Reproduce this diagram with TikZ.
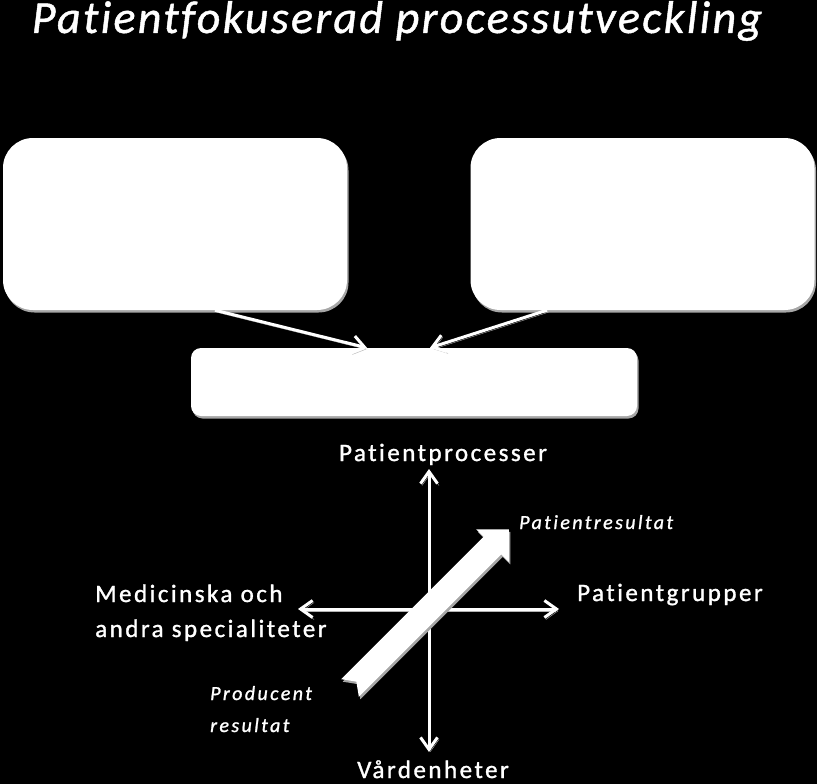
\documentclass[tikz,border=0pt]{standalone}
\usepackage{fontspec}
\setmainfont{Carlito}
\newfontfamily\lblfont[LetterSpace=10, FakeBold=1.2, Ligatures=NoCommon]{Carlito}
\newfontfamily\resfont[LetterSpace=12, FakeBold=1.2, Ligatures=NoCommon]{Carlito}
\newfontfamily\titlefont[LetterSpace=5, FakeBold=1, Ligatures=NoCommon]{Carlito}
\usetikzlibrary{arrows.meta,positioning,calc,shadows}

\begin{document}
\begin{tikzpicture}[x=1pt, y=-1pt, text=white,
  font=\lblfont\fontsize{25}{35}\selectfont,
  shade/.style={drop shadow={shadow xshift=1.5pt, shadow yshift=-2.5pt, fill=gray!70, opacity=1}},
  panel/.style={rectangle, rounded corners=30pt, fill=white, minimum width=344pt, minimum height=172pt, inner sep=0pt, shade},
  goalbox/.style={rectangle, rounded corners=10pt, fill=white, minimum width=446pt, minimum height=68pt, inner sep=0pt, shade},
  conn/.style={draw=white, line width=3pt, -{Straight Barb[length=12pt,width=17pt]}, preaction={draw=gray!60, transform canvas={xshift=1.5pt,yshift=-2pt}}},
  axisarr/.style={draw=white, line width=3pt, {Straight Barb[length=12pt,width=17pt]}-{Straight Barb[length=12pt,width=17pt]}, preaction={draw=gray!60, transform canvas={xshift=1.5pt,yshift=-2pt}}},
  axlab/.style={inner sep=0pt},
  reslab/.style={inner sep=0pt, align=left, font=\resfont\itshape\fontsize{20}{32}\selectfont}]
\fill[black] (0,0) rectangle (817,784);
\useasboundingbox (0,0) rectangle (817,784);

% title
\node[anchor=base, inner sep=0pt, font=\titlefont\itshape\fontsize{46}{50}\selectfont] (title) at (397,33) {Patientfokuserad processutveckling};

% boxes
\node[panel] (lbox) at (175,224) {};
\node[panel] (rbox) at (642.5,224) {};
\node[goalbox] (goal) at (414,382) {};
\draw[conn] ([xshift=40pt]lbox.south) -- ([xshift=-47pt]goal.north);
\draw[conn] ([xshift=-95.5pt]rbox.south) -- ([xshift=16pt]goal.north);

% axes
\coordinate (ntop) at (429,469);
\coordinate (nbot) at (429,752);
\coordinate (nleft) at (298,609);
\coordinate (nright) at (559,609);
\draw[axisarr] (nbot) -- (ntop);
\draw[axisarr] (nleft) -- (nright);

\node[axlab, anchor=base] (proc) at (443,461) {Patientprocesser};
\node[axlab, anchor=base] (vard) at (433,778) {Vårdenheter};
\node[axlab, anchor=base west] (grp) at (577,601) {Patientgrupper};
\node[axlab, anchor=base west, align=left] (spec) at (95,637) {Medicinska och\\andra specialiteter};
\node[reslab, anchor=base west] (pres) at (519,529) {Patientresultat};
\node[reslab, anchor=base west] (prod) at (210,732) {Producent\\resultat};

% result arrow
\begin{scope}[shift={(350,688)}, rotate=45]
  \fill[white, shade] (0,12.5) -- (201.5,12.5) -- (201.5,23) -- (224.5,0) -- (201.5,-23) -- (201.5,-12.5) -- (0,-12.5) -- (9,0) -- cycle;
\end{scope}
\end{tikzpicture}
\end{document}
